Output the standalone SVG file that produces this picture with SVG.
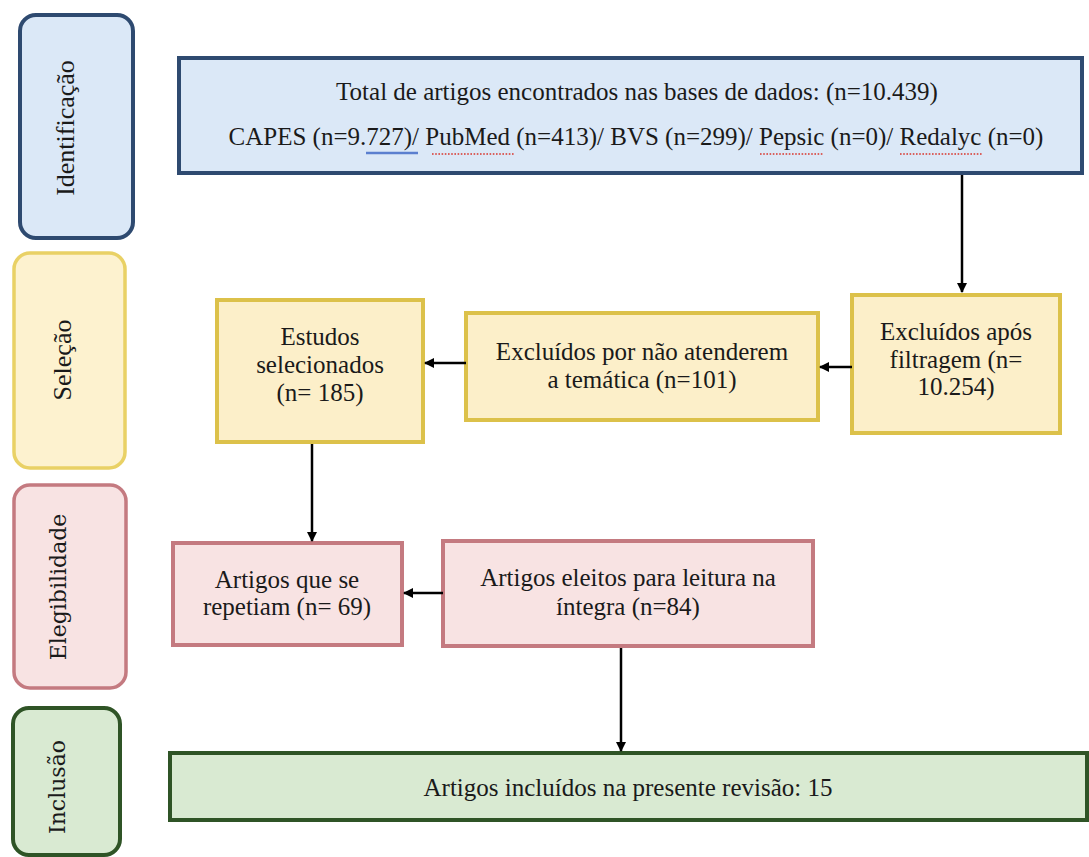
<svg xmlns="http://www.w3.org/2000/svg" width="1089" height="857" viewBox="0 0 1089 857">
<defs>
<marker id="ah" viewBox="0 0 10 10" refX="9" refY="5" markerWidth="4" markerHeight="4" orient="auto" markerUnits="strokeWidth">
<path d="M0,0 L10,5 L0,10 z" fill="#000"/>
</marker>
<style>
.t{font-family:"Liberation Serif","Times New Roman",serif;font-size:25px;fill:#1a1a1a;text-anchor:middle}
.s{font-family:"Liberation Serif","Times New Roman",serif;font-size:26px;fill:#1a1a1a;text-anchor:middle;dominant-baseline:central}
.s2{font-family:"DejaVu Serif",serif;font-size:22px;fill:#1a1a1a;text-anchor:middle;dominant-baseline:central}
.blue{fill:#dbe8f7;stroke:#2e4a70;stroke-width:4}
.yel{fill:#fcefc9;stroke:#dcc14a;stroke-width:4}
.yels{fill:#fdf2cf;stroke:#e9d165;stroke-width:3.5}
.red{fill:#f8e3e3;stroke:#c47a80;stroke-width:4}
.grn{fill:#d9ead2;stroke:#2f5426;stroke-width:4}
.c{stroke:#000;stroke-width:2.5;fill:none;marker-end:url(#ah)}
.sp{stroke:#d9342b;stroke-width:1.6;stroke-dasharray:1.6 1.6;fill:none}
.gr{stroke:#5b7fcf;stroke-width:2.5;fill:none}
</style>
</defs>
<rect width="1089" height="857" fill="#fff"/>

<g id="side-identificacao">
<rect class="blue" x="20" y="15" width="113" height="223" rx="16"/>
<text class="s" transform="translate(65,128) rotate(-90)">Identificação</text>
</g>
<g id="side-selecao">
<rect class="yels" x="14" y="253" width="111" height="215" rx="16"/>
<text class="s" transform="translate(62,360) rotate(-90)">Seleção</text>
</g>
<g id="side-elegibilidade">
<rect class="red" x="14" y="485" width="112" height="203" rx="16" style="stroke-width:3.5"/>
<text class="s2" transform="translate(58,587) rotate(-90)">Elegibilidade</text>
</g>
<g id="side-inclusao">
<rect class="grn" x="13" y="708" width="107" height="147" rx="16"/>
<text class="s2" transform="translate(57,787) rotate(-90)">Inclusão</text>
</g>

<g id="n-total">
<rect class="blue" x="179" y="58" width="903" height="115"/>
<text class="t" x="637" y="100">Total de artigos encontrados nas bases de dados: (n=10.439)</text>
<text class="t" x="636" y="145">CAPES (n=9.727)/ PubMed (n=413)/ BVS (n=299)/ Pepsic (n=0)/ Redalyc (n=0)</text>
<line class="gr" x1="366" y1="153" x2="418" y2="153"/>
<line class="sp" x1="432" y1="154" x2="515" y2="154"/>
<line class="sp" x1="760" y1="154" x2="823" y2="154"/>
<line class="sp" x1="900" y1="154" x2="982" y2="154"/>
</g>

<g id="n-excluidos-filtragem">
<rect class="yel" x="852" y="295" width="208" height="138"/>
<text class="t" x="956" y="340">Excluídos após</text>
<text class="t" x="956" y="368">filtragem (n=</text>
<text class="t" x="956" y="395">10.254)</text>
</g>

<g id="n-excluidos-tematica">
<rect class="yel" x="466" y="313" width="352" height="107"/>
<text class="t" x="642" y="360">Excluídos por não atenderem</text>
<text class="t" x="642" y="388">a temática (n=101)</text>
</g>

<g id="n-estudos">
<rect class="yel" x="217" y="300" width="206" height="142"/>
<text class="t" x="320" y="345">Estudos</text>
<text class="t" x="320" y="373">selecionados</text>
<text class="t" x="320" y="401">(n= 185)</text>
</g>

<g id="n-repetiam">
<rect class="red" x="173" y="543" width="229" height="102"/>
<text class="t" x="287" y="588">Artigos que se</text>
<text class="t" x="287" y="615">repetiam (n= 69)</text>
</g>

<g id="n-eleitos">
<rect class="red" x="443" y="541" width="370" height="105"/>
<text class="t" x="628" y="586">Artigos eleitos para leitura na</text>
<text class="t" x="628" y="615">íntegra (n=84)</text>
</g>

<g id="n-incluidos">
<rect class="grn" x="170" y="753" width="917" height="67"/>
<text class="t" x="628" y="796">Artigos incluídos na presente revisão: 15</text>
</g>

<g id="connectors">
<line class="c" x1="962" y1="175" x2="962" y2="292"/>
<line class="c" x1="852" y1="367" x2="820" y2="367"/>
<line class="c" x1="466" y1="363" x2="425" y2="363"/>
<line class="c" x1="312" y1="444" x2="312" y2="541"/>
<line class="c" x1="443" y1="593" x2="404" y2="593"/>
<line class="c" x1="621" y1="648" x2="621" y2="751"/>
</g>
</svg>
